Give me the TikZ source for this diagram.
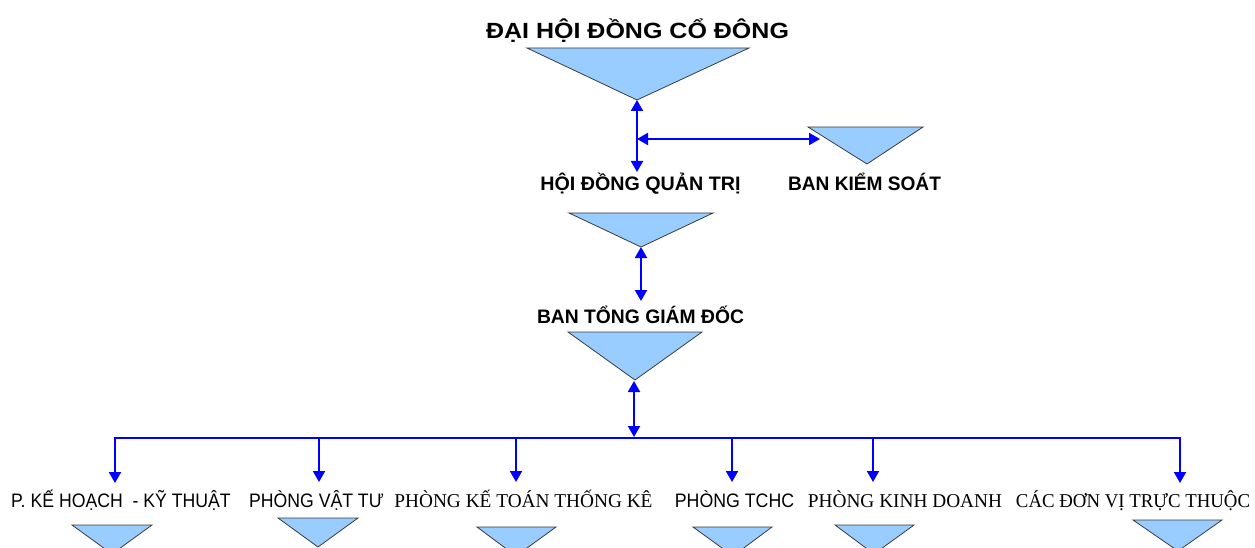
\documentclass[tikz,border=0pt]{standalone}
\usepackage{fontspec}
\setmainfont{Liberation Serif}
\newfontfamily\arialfont{Liberation Sans}
\usetikzlibrary{arrows.meta}
\definecolor{trifill}{RGB}{153,204,255}
\definecolor{triline}{RGB}{60,60,60}
\definecolor{arrblue}{RGB}{0,0,255}
\newcommand\hsc[2]{\scalebox{#1}[1]{#2}}
\begin{document}
\begin{tikzpicture}[x=1pt,y=-1pt,
  tri/.style={fill=trifill,draw=triline,line width=0.8pt,line join=miter},
  conn/.style={draw=arrblue,line width=2pt,-{Triangle[length=11pt,width=12pt]}},
  dconn/.style={draw=arrblue,line width=2pt,{Triangle[length=11pt,width=12pt]}-{Triangle[length=11pt,width=12pt]}},
  bus/.style={draw=arrblue,line width=2.2pt},
  boldlbl/.style={inner sep=0pt,anchor=base,font=\arialfont\bfseries\fontsize{19.5}{22}\selectfont},
  sanslbl/.style={inner sep=0pt,anchor=base,font=\arialfont\fontsize{19.5}{22}\selectfont},
  seriflbl/.style={inner sep=0pt,anchor=base,font=\fontsize{19.6}{22}\selectfont}]
\useasboundingbox (0,0) rectangle (1255,548);
\clip (0,0) rectangle (1255,548);
% top level
\node[boldlbl,font=\arialfont\bfseries\fontsize{22}{24}\selectfont] (title) at (637.5,38.5) {\hsc{1.137}{ĐẠI HỘI ĐỒNG CỔ ĐÔNG}};
\draw[tri] (527,48) -- (749,48) -- (637,100) -- cycle;
\coordinate (t1apex) at (637,100);
\coordinate (hdqtin) at (637,172);
\coordinate (bksjoin) at (637,139);
\coordinate (bksin) at (820,139);
\draw[dconn] (t1apex) -- (hdqtin);
\draw[dconn] (bksjoin) -- (bksin);
% BKS
\draw[tri] (808,127) -- (923,127) -- (867,164) -- cycle;
\node[boldlbl] (bks) at (864.5,190) {\hsc{0.98}{BAN KIỂM SOÁT}};
% HDQT
\node[boldlbl] (hdqt) at (640.5,191) {\hsc{1.01}{HỘI ĐỒNG QUẢN TRỊ}};
\draw[tri] (569,213) -- (713,213) -- (641,247) -- cycle;
\coordinate (t2apex) at (641,247);
\coordinate (btgdin) at (641,301);
\draw[dconn] (t2apex) -- (btgdin);
% BTGD
\node[boldlbl] (btgd) at (640.5,323) {\hsc{0.99}{BAN TỔNG GIÁM ĐỐC}};
\draw[tri] (568,332) -- (702,332) -- (635,380) -- cycle;
\coordinate (t3apex) at (634,381);
\coordinate (busmid) at (634,437);
\draw[dconn] (t3apex) -- (busmid);
% bus
\coordinate (b1) at (115,438);
\coordinate (b2) at (319,438);
\coordinate (b3) at (516,438);
\coordinate (b4) at (732,438);
\coordinate (b5) at (873,438);
\coordinate (b6) at (1180,438);
\draw[bus] (114,438) -- (1181,438);
\coordinate (d1) at (115,483);
\coordinate (d2) at (319,482);
\coordinate (d3) at (516,482);
\coordinate (d4) at (732,482);
\coordinate (d5) at (873,482);
\coordinate (d6) at (1180,483);
\foreach \i in {1,...,6} {\draw[conn] (b\i) -- (d\i);}
% bottom labels
\node[sanslbl] (pkh) at (121,507) {\hsc{0.906}{P. KẾ HOẠCH\ \ - KỸ THUẬT}};
\node[sanslbl] (pvt) at (316.5,507) {\hsc{0.905}{PHÒNG VẬT TƯ}};
\node[seriflbl] (pkt) at (523.5,507) {\hsc{0.985}{PHÒNG KẾ TOÁN THỐNG KÊ}};
\node[sanslbl] (ptc) at (734.5,507) {\hsc{0.91}{PHÒNG TCHC}};
\node[seriflbl] (pkd) at (905,507) {\hsc{0.985}{PHÒNG KINH DOANH}};
\node[seriflbl] (cdv) at (1133,507) {\hsc{0.96}{CÁC ĐƠN VỊ TRỰC THUỘC}};
% bottom triangles
\draw[tri] (72,525) -- (152,525) -- (112,554) -- cycle;
\draw[tri] (278,518) -- (358,518) -- (318,547) -- cycle;
\draw[tri] (477,527) -- (556,527) -- (516,556) -- cycle;
\draw[tri] (693,527) -- (772,527) -- (733,556) -- cycle;
\draw[tri] (835,525) -- (914,525) -- (874,554) -- cycle;
\draw[tri] (1133,520) -- (1222,520) -- (1178,551) -- cycle;
\end{tikzpicture}
\end{document}
